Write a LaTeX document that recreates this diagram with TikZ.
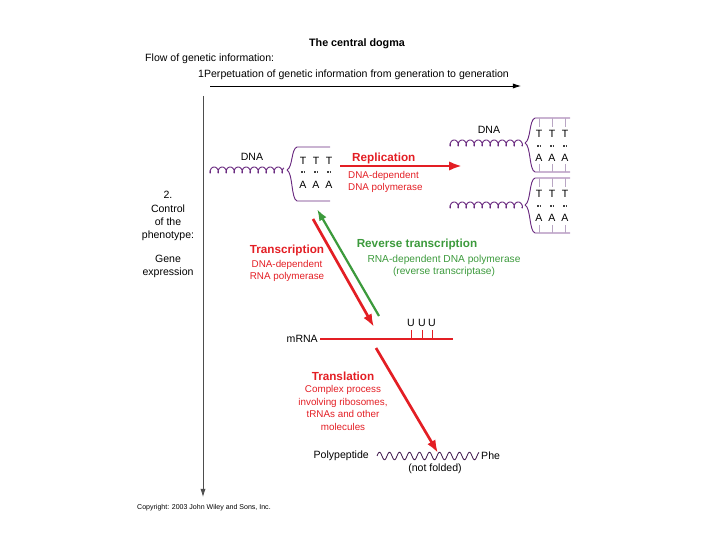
\documentclass[tikz,border=0pt]{standalone}
\usepackage{fontspec}
\setmainfont{Liberation Sans}
\usetikzlibrary{arrows.meta}
\definecolor{Strand}{HTML}{6A2A80}
\definecolor{Flow}{HTML}{E31E24}
\definecolor{Back}{HTML}{3C9A3C}
\definecolor{Axis}{HTML}{4D4D4D}
\definecolor{Stem}{HTML}{B9A6C4}

% coiled double helix: x from, x to, y
\newcommand{\coil}[3]{%
  \pgfmathsetmacro{\coilend}{(#2-#1)/8*360}
  \draw[strand] plot[variable=\t,domain=0:\coilend,samples=260,smooth]
    ({#1+\t/45+1.8*cos(\t)-1.8},{#3+3*sin(\t)});
}
% opening fork: x, y of helix end, y upper strand, y lower strand, x end
\newcommand{\fork}[5]{%
  \draw[strand] (#1,#2) .. controls ({#1+6},{#2-3}) and ({#1+4},{#3+2}) .. ({#1+10},{#3}) -- (#5,#3);
  \draw[strand] (#1,#2) .. controls ({#1+6},{#2+3}) and ({#1+4},{#4-2}) .. ({#1+10},{#4}) -- (#5,#4);
}
% base pairs: prefix, first x, y of T, y of bond, y of A
\newcommand{\pairs}[5]{%
  \foreach \bx [count=\i] in {0,13,26} {
    \node[txt] (#1t\i) at ({#2+\bx},#3) {T};
    \draw[bond] ({#2+\bx-2},#4) -- ({#2+\bx+2.2},#4);
    \node[txt] (#1a\i) at ({#2+\bx},#5) {A};
  }
}

\begin{document}
\begin{tikzpicture}[x=0.03cm,y=-0.03cm,
  txt/.style={inner sep=0pt,align=center,font=\fontsize{9}{11}\selectfont},
  sub/.style={inner sep=0pt,align=center,font=\fontsize{8.4}{10.6}\selectfont},
  head/.style={inner sep=0pt,align=center,font=\fontsize{10}{12}\selectfont\bfseries},
  strand/.style={draw=Strand,line width=0.8pt},
  stem/.style={draw=Stem,line width=0.4pt},
  bond/.style={draw=black!75,line width=1.1pt,dash pattern=on 1.3pt off 0.9pt},
  flow/.style={-{Latex[length=7pt,width=4.5pt]},line width=0.7pt},
  fwd/.style={-{Latex[length=11pt,width=8pt]},draw=Flow,line width=2.3pt},
  rev/.style={-{Latex[length=10pt,width=7pt]},draw=Back,line width=1.9pt},
]
\useasboundingbox (0,0) rectangle (720,540);

% headings
\node[inner sep=0pt,font=\fontsize{9.2}{11}\selectfont\bfseries] (title) at (357,44) {The central dogma};
\node[txt,anchor=west] (flowlbl) at (145,59) {Flow of genetic information:};
\node[txt,anchor=west] (perp) at (198,75) {1Perpetuation of genetic information from generation to generation};
\node[txt,font=\fontsize{9}{11.2}\selectfont] (ctrl) at (168,216) {2.\\Control\\of the\\phenotype:};
\node[txt,font=\fontsize{9}{11.2}\selectfont] (gene) at (168,266) {Gene\\expression};

\coordinate (flow-a) at (210,86);
\coordinate (flow-b) at (521,86);
\coordinate (ctrl-a) at (203,96);
\coordinate (ctrl-b) at (203,497);
\draw[flow] (flow-a) -- (flow-b);
\draw[flow,draw=Axis] (ctrl-a) -- (ctrl-b);

% parent DNA
\node[txt] (dna1) at (252,157) {DNA};
\coil{210}{287}{170}
\fork{287}{170}{147}{201}{330}
\pairs{p}{303}{161}{172}{185}

% daughter DNA
\node[txt] (dna2) at (489,130) {DNA};
\coil{450}{525}{143}
\fork{525}{143}{118}{172}{570}
\coil{450}{525}{205}
\fork{525}{205}{178}{233}{570}
\foreach \sx in {539,552,565} {
  \draw[stem] (\sx,118) -- (\sx,127);
  \draw[stem] (\sx,164) -- (\sx,172);
  \draw[stem] (\sx,178) -- (\sx,187);
  \draw[stem] (\sx,225) -- (\sx,233);
}
\pairs{d}{539}{134}{146}{158}
\pairs{e}{539}{194}{206}{218}

% replication
\node[head,text=Flow,anchor=west] (rep) at (352,158) {Replication};
\node[sub,text=Flow,anchor=west,align=left] (repenz) at (348,182) {DNA-dependent\\DNA polymerase};
\coordinate (rep-a) at (340,166);
\coordinate (rep-b) at (462,166);
\draw[fwd] (rep-a) -- (rep-b);

% transcription and reverse transcription
\node[head,text=Flow] (trans) at (287,250) {Transcription};
\node[sub,text=Flow] (transenz) at (287,271) {DNA-dependent\\RNA polymerase};
\node[head,text=Back] (rtrans) at (417,244) {Reverse transcription};
\node[sub,text=Back,font=\fontsize{8.7}{10.6}\selectfont] (rtenz) at (444,266) {RNA-dependent DNA polymerase\\(reverse transcriptase)};
\coordinate (tr-a) at (313,219);
\coordinate (tr-b) at (374,327);
\coordinate (rt-a) at (379,316);
\coordinate (rt-b) at (317,209);
\draw[rev] (rt-a) -- (rt-b);
\draw[fwd] (tr-a) -- (tr-b);

% mRNA
\node[txt,anchor=east] (mrna) at (318,339) {mRNA};
\coordinate (mrna-a) at (320,339);
\coordinate (mrna-b) at (453,339);
\draw[draw=Flow,line width=0.9pt] (mrna-a) -- (mrna-b);
\foreach \ux [count=\i] in {411,422,432} {
  \node[txt] (u\i) at (\ux,323) {U};
  \draw[draw=Flow,line width=0.8pt] (\ux,330) -- (\ux,339);
}

% translation
\node[head,text=Flow] (transl) at (343,376) {Translation};
\node[sub,text=Flow,font=\fontsize{8.4}{10.8}\selectfont] (translenz) at (343,408) {Complex process\\involving ribosomes,\\tRNAs and other\\molecules};
\coordinate (tl-a) at (376,348);
\coordinate (tl-b) at (438,453);
\draw[fwd] (tl-a) -- (tl-b);

% polypeptide
\node[txt,anchor=east] (pep) at (369,456) {Polypeptide};
\draw[draw=Strand!60!black,line width=0.7pt] plot[domain=377:479,samples=160,smooth] (\x,{456-3.8*sin(36*(\x-377))});
\node[txt,anchor=west] (phe) at (481,456) {Phe};
\node[txt] (nf) at (435,469) {(not folded)};

\node[anchor=west,inner sep=0pt,font=\fontsize{6}{7}\selectfont] (copy) at (137,508) {Copyright: 2003 John Wiley and Sons, Inc.};
\end{tikzpicture}
\end{document}
